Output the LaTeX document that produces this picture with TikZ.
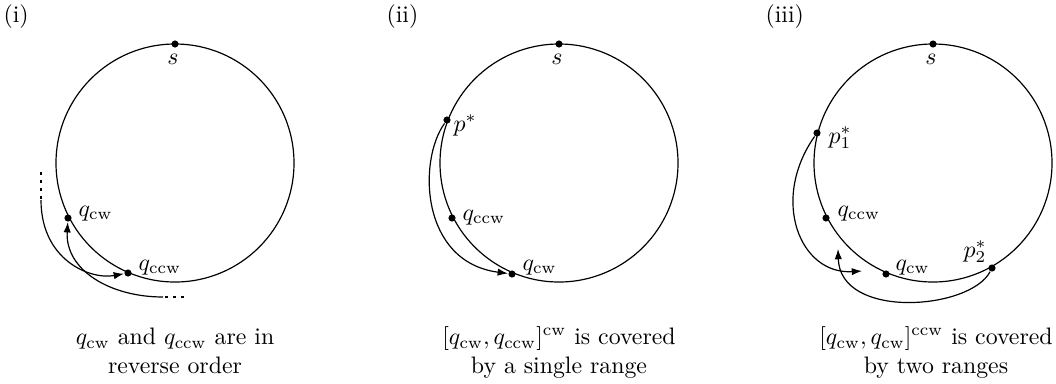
\documentclass[tikz,border=0pt]{standalone}
\usetikzlibrary{arrows.meta}
\begin{document}
\begin{tikzpicture}[x=0.42pt,y=-0.42pt, line width=0.5pt,
  dot/.style={circle,fill,inner sep=0pt,minimum size=3pt},
  lbl/.style={inner sep=0pt,anchor=base west},
  arr/.style={-{Latex[length=4.3pt,width=3.1pt]}},
  dsh/.style={dash pattern=on 1.2pt off 2.2pt},
  captext/.style={align=center,anchor=base,inner sep=0pt}]
\useasboundingbox (0,0) rectangle (1056,383);
% panel labels
\node[lbl] (t1) at (3,22) {(i)};
\node[lbl] (t2) at (386,22) {(ii)};
\node[lbl] (t3) at (765,22) {(iii)};
% ---------- panel (i)
\coordinate (c1) at (175,163);
\draw (c1) circle[radius=49.98pt];
\node[dot] (s1) at (175,44) {};
\node[inner sep=0pt] (s1l) at (173,59) {$s$};
\node[dot] (qcw1) at (68,218) {};
\node[dot] (qccw1) at (128,273) {};
\node[lbl] (qcw1l) at (78,216) {$q_{\mathrm{cw}}$};
\node[lbl] (qccw1l) at (138,270) {$q_{\mathrm{ccw}}$};
\coordinate (a1) at (41,172);
\coordinate (a2) at (41,200);
\draw[dsh] (a1) -- (a2);
\draw[arr] (a2) .. controls (41,260) and (90,280) .. (qccw1);
\coordinate (b1) at (184,297);
\coordinate (b2) at (163,297);
\draw[dsh] (b1) -- (b2);
\draw[arr] (b2) .. controls (110,297) and (65,270) .. (qcw1);
\node[captext] (cap1) at (175,373) {$q_{\mathrm{cw}}$ and $q_{\mathrm{ccw}}$ are in\\ reverse order};
% ---------- panel (ii)
\coordinate (c2) at (559,163);
\draw (c2) circle[radius=49.98pt];
\node[dot] (s2) at (559,44) {};
\node[inner sep=0pt] (s2l) at (557,59) {$s$};
\node[dot] (ps) at (447,120) {};
\node[dot] (qccw2) at (452,218) {};
\node[dot] (qcw2) at (512,274) {};
\node[lbl] (psl) at (453,131) {$p^*$};
\node[lbl] (qccw2l) at (462,220) {$q_{\mathrm{ccw}}$};
\node[lbl] (qcw2l) at (522,270) {$q_{\mathrm{cw}}$};
\draw[arr] (ps) .. controls (418,160) and (420,262) .. (qcw2);
\node[captext] (cap2) at (559,373) {$[q_{\mathrm{cw}},q_{\mathrm{ccw}}]^{\mathrm{cw}}$ is covered\\ by a single range};
% ---------- panel (iii)
\coordinate (c3) at (933,163);
\draw (c3) circle[radius=49.98pt];
\node[dot] (s3) at (933,44) {};
\node[inner sep=0pt] (s3l) at (931,59) {$s$};
\node[dot] (p1) at (817,133) {};
\node[dot] (qccw3) at (826,218) {};
\node[dot] (qcw3) at (886,274) {};
\node[dot] (p2) at (992,268) {};
\node[lbl] (p1l) at (828,143) {$p_1^*$};
\node[lbl] (qccw3l) at (837,216) {$q_{\mathrm{ccw}}$};
\node[lbl] (qcw3l) at (895,270) {$q_{\mathrm{cw}}$};
\node[lbl] (p2l) at (963,257) {$p_2^*$};
\coordinate (e1) at (862,271);
\coordinate (e2) at (838,249);
\draw[arr] (p1) .. controls (770,200) and (800,275) .. (e1);
\draw[arr] (p2) .. controls (970,310) and (840,320) .. (e2);
\node[captext] (cap3) at (936,373) {$[q_{\mathrm{cw}},q_{\mathrm{cw}}]^{\mathrm{ccw}}$ is covered\\ by two ranges};
\end{tikzpicture}
\end{document}
